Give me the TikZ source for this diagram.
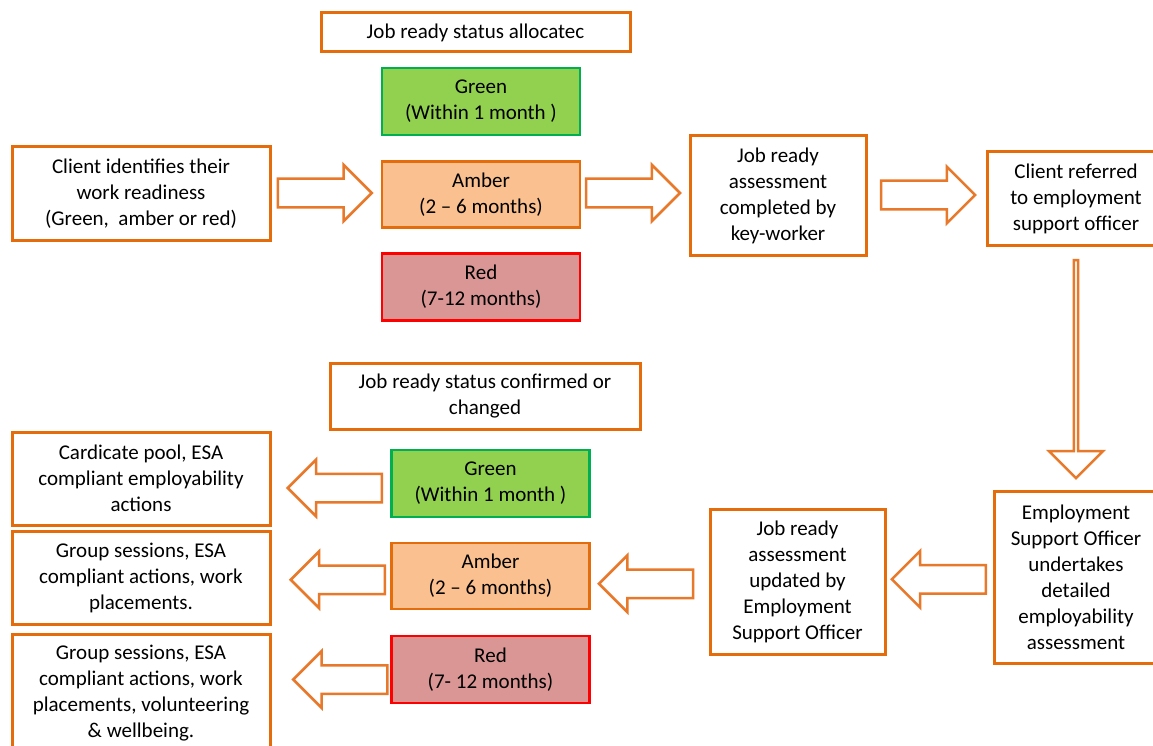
\documentclass[tikz,border=0pt]{standalone}
\usepackage{fontspec}
\setmainfont{Carlito}
\usetikzlibrary{shapes.arrows,calc}
\definecolor{orng}{HTML}{E46C0A}
\definecolor{arrc}{HTML}{E8792A}
\definecolor{gfill}{HTML}{92D050}
\definecolor{gline}{HTML}{00B050}
\definecolor{afill}{HTML}{FAC090}
\definecolor{rfill}{HTML}{D99694}
\definecolor{rline}{HTML}{FF0000}
\begin{document}
\begin{tikzpicture}[x=1pt,y=-1pt,
  every node/.style={font=\fontsize{21}{26}\selectfont, align=center, inner sep=0pt},
  box/.style={draw=orng, line width=3pt, fill=white},
  gbox/.style={draw=gline, line width=2.5pt, fill=gfill, minimum width=198, minimum height=67},
  abox/.style={draw=orng, line width=2.5pt, fill=afill, minimum width=198, minimum height=66},
  rbox/.style={draw=rline, line width=2.5pt, fill=rfill, minimum width=198, minimum height=67},
  barrow/.style={single arrow, draw=arrc, line width=2.5pt, fill=white,
    text height=0pt, text depth=0pt, inner xsep=0pt, inner ysep=13pt,
    minimum height=94, minimum width=54, single arrow head extend=14,
    single arrow tip angle=90, single arrow head indent=0pt},
  ]
\clip (0,0) rectangle (1153,746);
\fill[white] (0,0) rectangle (1153,746);

% top section
\node[box, minimum width=309, minimum height=39] (t1) at (475.5,32.5) {Job ready status allocatec};
\node[gbox] (g1) at (481,101.5) {Green\\(Within 1 month )};
\node[abox] (a1) at (481,194.5) {Amber\\(2 -- 6 months)};
\node[rbox] (r1) at (481,287) {Red\\(7-12 months)};
\node[box, minimum width=258, minimum height=93] (cl) at (141,193.5) {Client identifies their\\work readiness\\(Green,\ \ amber or red)};
\node[box, minimum width=176, minimum height=119] (jra) at (778,195.5) {Job ready\\assessment\\completed by\\key-worker};
\node[box, minimum width=178, minimum height=93] (cr) at (1076,198.5) {Client referred\\to employment\\support officer};

% bottom section
\node[box, minimum width=164, minimum height=172] (eso) at (1076,577) {Employment\\Support Officer\\undertakes\\detailed\\employability\\assessment};
\node[box, minimum width=175, minimum height=145] (jru) at (797.5,581.5) {Job ready\\assessment\\updated by\\Employment\\Support Officer};
\node[box, minimum width=310, minimum height=66] (t2) at (485,396) {Job ready status confirmed or\\changed};
\node[gbox] (g2) at (490.5,483.5) {Green\\(Within 1 month )};
\node[abox] (a2) at (490.5,576) {Amber\\(2 -- 6 months)};
\node[rbox] (r2) at (490.5,669.5) {Red\\(7- 12 months)};
\node[box, minimum width=258, minimum height=93] (cand) at (141,478.5) {Cardicate pool, ESA\\compliant employability\\actions};
\node[box, minimum width=258, minimum height=93] (gr1) at (141,577.5) {Group sessions, ESA\\compliant actions, work\\placements.};
\node[box, minimum width=258, minimum height=119] (gr2) at (141,693.5) {Group sessions, ESA\\compliant actions, work\\placements, volunteering\\\& wellbeing.};

% block arrows
\node[barrow] (ar1) at ($(cl.east)!.5!(a1.west)+(-8.5,-1)$) {};
\node[barrow] (ar2) at ($(a1.east)!.5!(jra.west)+(-9,-2)$) {};
\node[barrow] (ar3) at ($(jra.east)!.5!(cr.west)+(-5.5,-2)$) {};
\node[barrow, minimum height=218, shape border rotate=270] (ar4) at ($(cr.south)!.5!(eso.north)$) {};
\node[barrow, shape border rotate=180] (ar5) at ($(eso.west)!.5!(jru.east)+(6.5,0)$) {};
\node[barrow, shape border rotate=180] (ar6) at ($(jru.west)!.5!(a2.east)+(3.5,5)$) {};
\node[barrow, shape border rotate=180] (ar7) at ($(g2.west)!.5!(cand.east)+(11,7)$) {};
\node[barrow, shape border rotate=180] (ar8) at ($(a2.west)!.5!(gr1.east)+(14,3)$) {};
\node[barrow, shape border rotate=180] (ar9) at ($(r2.west)!.5!(gr2.east)+(16.5,-2)$) {};
\end{tikzpicture}
\end{document}
